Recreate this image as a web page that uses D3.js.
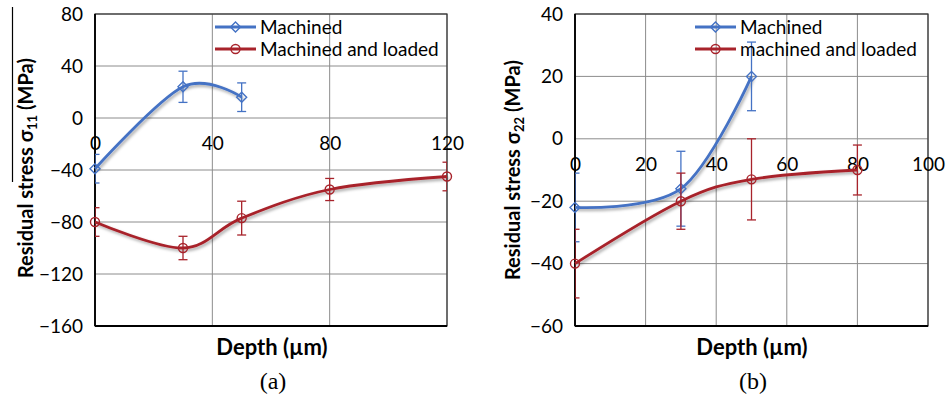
<!DOCTYPE html>
<html><head><meta charset="utf-8">
<script src="https://cdn.jsdelivr.net/npm/d3@7"></script>
<style>
html,body{margin:0;padding:0;background:#fff;}
svg{display:block;}
</style></head>
<body>
<svg id="chart" width="946" height="401"></svg>
<script>
// ---- data ----
const depthA_machined = [0, 30, 50];
const stressA_machined = [-39, 24, 16];
const errA_machined = [11, 12, 11];
const depthA_loaded = [0, 30, 50, 80, 120];
const stressA_loaded = [-80, -100, -77, -55, -45];
const errA_loaded = [11, 9, 13, 8.5, 11];

const depthB_machined = [0, 30, 50];
const stressB_machined = [-22, -16, 20];
const errB_machined = [11, 12, 11];
const depthB_loaded = [0, 30, 50, 80];
const stressB_loaded = [-40, -20, -13, -10];
const errB_loaded = [11, 9, 13, 8];

const xTicksA = [0, 40, 80, 120];
const yTicksA = [-160, -120, -80, -40, 0, 40, 80];
const xTicksB = [0, 20, 40, 60, 80, 100];
const yTicksB = [-60, -40, -20, 0, 20, 40];

const legendA = ["Machined", "Machined and loaded"];
const legendB = ["Machined", "machined and loaded"];

const BLUE = "#4472C4", RED = "#A8232B";
const FONT = "Lato, 'Open Sans', sans-serif";

const svg = d3.select("#chart");
const defs = svg.append("defs");
const f = defs.append("filter").attr("id", "shadow").attr("x", "-10%").attr("y", "-10%").attr("width", "130%").attr("height", "130%");
f.append("feDropShadow").attr("dx", 1.5).attr("dy", 2).attr("stdDeviation", 1.5).attr("flood-color", "#000").attr("flood-opacity", 0.35);

function zip(xs, ys, es) { return xs.map((x, i) => ({x: x, y: ys[i], e: es[i]})); }

function drawChart(cfg) {
  const {id, left, right, top, bottom, xDom, yDom, xTicks, yTicks, series, legend, legendX, sub, titleX, label} = cfg;
  const x = d3.scaleLinear().domain(xDom).range([left, right]);
  const y = d3.scaleLinear().domain(yDom).range([bottom, top]);
  const g = svg.append("g");

  defs.append("clipPath").attr("id", "clip" + id)
    .append("rect").attr("x", left).attr("y", top).attr("width", right - left).attr("height", bottom - top);

  // gridlines
  g.append("g").selectAll("line").data(yTicks).join("line")
    .attr("x1", left).attr("x2", right).attr("y1", d => y(d)).attr("y2", d => y(d))
    .attr("stroke", "#8c8c8c").attr("stroke-width", 1);
  g.append("g").selectAll("line").data(xTicks).join("line")
    .attr("y1", top).attr("y2", bottom).attr("x1", d => x(d)).attr("x2", d => x(d))
    .attr("stroke", "#8c8c8c").attr("stroke-width", 1);
  // border
  g.append("rect").attr("x", left).attr("y", top).attr("width", right - left).attr("height", bottom - top)
    .attr("fill", "none").attr("stroke", "#333").attr("stroke-width", 1.2);
  g.append("line").attr("x1", left).attr("x2", left).attr("y1", top).attr("y2", bottom).attr("stroke", "#000").attr("stroke-width", 1.8);
  g.append("line").attr("x1", left).attr("x2", right).attr("y1", bottom).attr("y2", bottom).attr("stroke", "#000").attr("stroke-width", 1.8);

  // axes labels
  const yAxis = d3.axisLeft(y).tickValues(yTicks).tickSize(0).tickPadding(12);
  const ya = g.append("g").attr("transform", `translate(${left},0)`).call(yAxis);
  ya.select(".domain").remove();
  ya.selectAll("text").attr("font-family", FONT).attr("font-size", 19).attr("fill", "#000");

  const xAxis = d3.axisBottom(x).tickValues(xTicks).tickSize(0).tickPadding(19);
  const xa = g.append("g").attr("transform", `translate(0,${y(0)})`).call(xAxis);
  xa.select(".domain").remove();
  xa.selectAll("text").attr("font-family", FONT).attr("font-size", 19).attr("fill", "#000");

  // series
  const line = d3.line().x(d => x(d.x)).y(d => y(d.y)).curve(d3.curveCardinal.tension(0));
  series.forEach(s => {
    const pts = zip(s.xs, s.ys, s.es);
    g.append("path").datum(pts).attr("d", line).attr("fill", "none")
      .attr("stroke", s.color).attr("stroke-width", 2.8).attr("filter", "url(#shadow)");
    const eb = g.append("g").attr("clip-path", `url(#clip${id})`);
    pts.forEach(p => {
      eb.append("line").attr("x1", x(p.x)).attr("x2", x(p.x)).attr("y1", y(p.y - p.e)).attr("y2", y(p.y + p.e))
        .attr("stroke", s.color).attr("stroke-width", 1.3);
      [p.y - p.e, p.y + p.e].forEach(v => {
        eb.append("line").attr("x1", x(p.x) - 4.5).attr("x2", x(p.x) + 4.5).attr("y1", y(v)).attr("y2", y(v))
          .attr("stroke", s.color).attr("stroke-width", 1.3);
      });
    });
    pts.forEach(p => drawMarker(g, s.marker, x(p.x), y(p.y), s.color));
  });

  // legend
  series.forEach((s, i) => {
    const ly = 27 + i * 22;
    g.append("line").attr("x1", legendX).attr("x2", legendX + 41).attr("y1", ly).attr("y2", ly)
      .attr("stroke", s.color).attr("stroke-width", 2.8);
    drawMarker(g, s.marker, legendX + 20.5, ly, s.color);
    g.append("text").attr("x", legendX + 45).attr("y", ly).attr("dy", "0.35em")
      .attr("font-family", FONT).attr("font-size", 19).attr("fill", "#000").text(legend[i]);
  });

  // y title
  const yt = g.append("text").attr("transform", `translate(${cfg.ytX},${cfg.ytY}) rotate(-90)`)
    .attr("text-anchor", "middle").attr("font-family", FONT).attr("font-weight", "bold").attr("font-size", 20).attr("fill", "#000");
  yt.append("tspan").text("Residual stress σ");
  yt.append("tspan").attr("font-size", 13).attr("dy", 4).text(sub);
  yt.append("tspan").attr("dy", -4).text(" (MPa)");

  // x title
  g.append("text").attr("x", titleX).attr("y", 355).attr("text-anchor", "middle")
    .attr("font-family", FONT).attr("font-weight", "bold").attr("font-size", 22).attr("fill", "#000").text("Depth (µm)");
  g.append("text").attr("x", titleX + 1).attr("y", 389).attr("text-anchor", "middle")
    .attr("font-family", "'Liberation Serif', 'DejaVu Serif', serif").attr("font-size", 24).attr("fill", "#000").text(label);
}

function drawMarker(g, type, cx, cy, color) {
  if (type === "diamond") {
    const r = 5;
    g.append("path").attr("d", `M${cx},${cy - r}L${cx + r},${cy}L${cx},${cy + r}L${cx - r},${cy}Z`)
      .attr("fill", "none").attr("stroke", color).attr("stroke-width", 1.4);
  } else {
    g.append("circle").attr("cx", cx).attr("cy", cy).attr("r", 4.5)
      .attr("fill", "none").attr("stroke", color).attr("stroke-width", 1.4);
  }
}

drawChart({
  id: "a", left: 95, right: 447, top: 14, bottom: 326,
  xDom: [0, 120], yDom: [-160, 80], xTicks: xTicksA, yTicks: yTicksA,
  series: [
    {xs: depthA_machined, ys: stressA_machined, es: errA_machined, color: BLUE, marker: "diamond"},
    {xs: depthA_loaded, ys: stressA_loaded, es: errA_loaded, color: RED, marker: "circle"}
  ],
  legend: legendA, legendX: 215, sub: "11", titleX: 272, label: "(a)", ytX: 33, ytY: 168
});
drawChart({
  id: "b", left: 575, right: 928, top: 14, bottom: 326,
  xDom: [0, 100], yDom: [-60, 40], xTicks: xTicksB, yTicks: yTicksB,
  series: [
    {xs: depthB_machined, ys: stressB_machined, es: errB_machined, color: BLUE, marker: "diamond"},
    {xs: depthB_loaded, ys: stressB_loaded, es: errB_loaded, color: RED, marker: "circle"}
  ],
  legend: legendB, legendX: 695, sub: "22", titleX: 752, label: "(b)", ytX: 520, ytY: 170
});

// thin vertical stroke beside the left y title (present in the source image)
svg.append("line").attr("x1", 12.5).attr("x2", 12.5).attr("y1", 7).attr("y2", 182).attr("stroke", "#000").attr("stroke-width", 1.2);
</script>
</body></html>
